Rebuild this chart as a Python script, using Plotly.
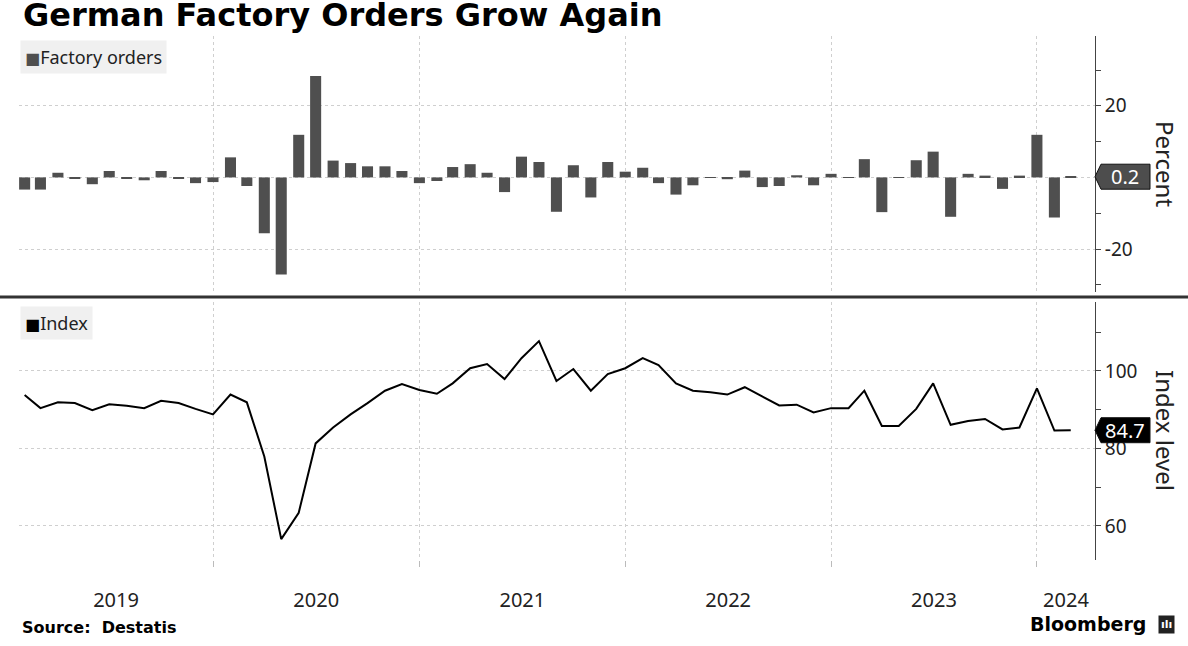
import pandas as pd
import plotly.graph_objects as go

# monthly data, Jan 2019 .. Feb 2024
months = pd.period_range("2019-01", "2024-02", freq="M").strftime("%Y-%m").tolist()

# factory orders, % change m/m
orders = [
    -3.4, -3.4, 1.3, -0.2, -1.9, 1.8, -0.4, -0.8, 1.8, -0.4, -1.6, -1.3,
    5.6, -2.4, -15.6, -27.1, 11.9, 28.3, 4.7, 4.0, 3.1, 3.1, 1.8, -1.6,
    -1.0, 2.9, 3.7, 1.3, -4.1, 5.8, 4.3, -9.6, 3.4, -5.6, 4.3, 1.6,
    2.7, -1.6, -4.8, -2.2, -0.1, -0.5, 1.9, -2.7, -2.4, 0.6, -2.2, 1.0,
    -0.1, 5.1, -9.7, -0.1, 4.8, 7.2, -11.0, 1.0, 0.5, -3.2, 0.5, 11.9,
    -11.2, 0.2,
]

# index level
index_level = [
    93.8, 90.4, 91.9, 91.7, 89.9, 91.4, 91.0, 90.4, 92.3, 91.7, 90.2, 88.8,
    93.9, 91.9, 77.9, 56.6, 63.4, 81.3, 85.4, 88.8, 91.7, 94.9, 96.6, 95.1,
    94.1, 96.8, 100.7, 101.8, 97.9, 103.3, 107.7, 97.4, 100.5, 94.9, 99.2, 100.7,
    103.3, 101.5, 96.8, 94.9, 94.5, 93.9, 95.8, 93.4, 91.1, 91.3, 89.3, 90.4,
    90.4, 94.9, 85.8, 85.8, 90.2, 96.8, 86.1, 87.1, 87.6, 84.9, 85.4, 95.5,
    84.6, 84.7,
]

years = [2019, 2020, 2021, 2022, 2023, 2024]
pct_ticks = [-20, 0, 20]
x_start, x_end = "2019-01-22", "2024-04-13"

BAR = "#4f4f4f"
GRID = "#cfcfcf"
AXIS = "#444444"
TXT = "#222222"
FONT = "Noto Sans"

# year labels sit in the middle of the visible part of each year
lo, hi = pd.Timestamp(x_start), pd.Timestamp(x_end)
year_mid, year_starts = [], []
for y in years:
    a = max(pd.Timestamp(f"{y}-01-01"), lo)
    b = min(pd.Timestamp(f"{y + 1}-01-01"), hi)
    year_mid.append(a + (b - a) / 2)
    if pd.Timestamp(f"{y}-01-01") > lo:
        year_starts.append(pd.Timestamp(f"{y}-01-01"))

fig = go.Figure()

fig.add_trace(go.Bar(
    x=months, y=orders, xperiod="M1", xperiodalignment="end",
    marker=dict(color=BAR, line=dict(width=0)),
    xaxis="x", yaxis="y", name="Factory orders",
))
fig.add_trace(go.Scatter(
    x=months, y=index_level, xperiod="M1", xperiodalignment="end",
    mode="lines", line=dict(color="black", width=2),
    xaxis="x2", yaxis="y2", name="Index",
))

xcommon = dict(
    type="date", range=[x_start, x_end], showgrid=False, zeroline=False,
    showline=False, tickmode="array", tickvals=year_mid, ticktext=[str(y) for y in years],
    minor=dict(tickmode="array", tickvals=year_starts, showgrid=True,
               gridcolor=GRID, griddash="dot", gridwidth=1),
)
ycommon = dict(
    side="right", showline=True, linecolor=AXIS, linewidth=1,
    ticks="outside", ticklen=5, tickcolor=AXIS,
    showgrid=True, gridcolor=GRID, griddash="dot", gridwidth=1, zeroline=False,
    tickfont=dict(family=FONT, size=19, color=TXT),
    minor=dict(tickmode="linear", tick0=0, dtick=10, ticks="outside", ticklen=5,
               tickcolor=AXIS, showgrid=False),
)

fig.update_layout(
    width=1188, height=646,
    margin=dict(l=19, r=93, t=36, b=86),
    paper_bgcolor="white", plot_bgcolor="white",
    showlegend=False, bargap=0.3,
    font=dict(family=FONT, color=TXT),
    xaxis=dict(xcommon, anchor="y", showticklabels=False, ticks=""),
    xaxis2=dict(xcommon, anchor="y2", matches="x", ticks="", ticklabelstandoff=26,
                tickfont=dict(family=FONT, size=20, color=TXT)),
    yaxis=dict(ycommon, domain=[0.5115, 1], anchor="x", range=[-32, 39.5],
               tickmode="array", tickvals=pct_ticks, ticktext=[str(v) for v in pct_ticks]),
    yaxis2=dict(ycommon, domain=[0, 0.4924], anchor="x2", range=[51.2, 117.8],
                tick0=0, dtick=20),
)
fig.layout.xaxis2.minor.update(ticks="outside", ticklen=6, tickcolor="#bbbbbb")

# thick divider between the panels
fig.add_shape(type="line", xref="paper", yref="paper", x0=-0.02, x1=1.1,
              y0=0.5019, y1=0.5019, line=dict(color="#333333", width=3))

# last value tags
for yref, val, fill in [("y", orders[-1], "#4d4d4d"), ("y2", index_level[-1], "black")]:
    fig.add_shape(type="path", xref="paper", xsizemode="pixel", xanchor=1,
                  yref=yref, ysizemode="pixel", yanchor=val,
                  path="M0,0 L6,12.5 L55,12.5 L55,-12.5 L6,-12.5 Z",
                  fillcolor=fill, line=dict(color="#111111", width=1), layer="above")
    fig.add_annotation(xref="paper", x=1, xshift=30, xanchor="center", yref=yref, y=val,
                       text=f"{val:.1f}", showarrow=False,
                       font=dict(family=FONT, size=20, color="white"))

# panel legends
for yref, label, col in [("y domain", "Factory orders", BAR), ("y2 domain", "Index", "black")]:
    fig.add_annotation(xref="paper", x=0, xanchor="left", xshift=1,
                       yref=yref, y=1, yanchor="top", yshift=-4,
                       text=(f'<span style="color:{col};font-family:DejaVu Sans;'
                             f'font-size:16px">■</span>{label}'),
                       showarrow=False, bgcolor="#f0f0f0", borderpad=4,
                       font=dict(family=FONT, size=18, color=TXT))

# axis titles, reading top to bottom
for yref, label in [("y domain", "Percent"), ("y2 domain", "Index level")]:
    fig.add_annotation(xref="paper", x=1.065, xanchor="center", yref=yref, y=0.5,
                       yanchor="middle", textangle=90, text=label, showarrow=False,
                       font=dict(family=FONT, size=24, color=TXT))

fig.add_annotation(xref="paper", x=0.002, xanchor="left", yref="paper", y=1.0401,
                   yanchor="middle", text="<b>German Factory Orders Grow Again</b>",
                   showarrow=False, font=dict(family="DejaVu Sans", size=32, color="black"))
fig.add_annotation(xref="paper", x=0.001, xanchor="left", yref="paper", y=-0.128,
                   yanchor="middle", text="<b>Source:  Destatis</b>", showarrow=False,
                   font=dict(family="DejaVu Sans", size=16, color="black"))
fig.add_annotation(xref="paper", x=1.0493, xanchor="right", yref="paper", y=-0.122,
                   yanchor="middle", text="<b>Bloomberg</b>", showarrow=False,
                   font=dict(family="DejaVu Sans", size=19, color="black"))
fig.add_annotation(xref="paper", x=1.066, xanchor="center", yref="paper", y=-0.123,
                   yanchor="middle", text="<b>ılı</b>", showarrow=False, bgcolor="#222222",
                   borderpad=2, font=dict(family="DejaVu Sans", size=11, color="white"))

# the page is photographed edge to edge, so drop the default body margin
fig.write_html("out.html", config={"displayModeBar": False},
               post_script="document.body.style.margin='0px';")
